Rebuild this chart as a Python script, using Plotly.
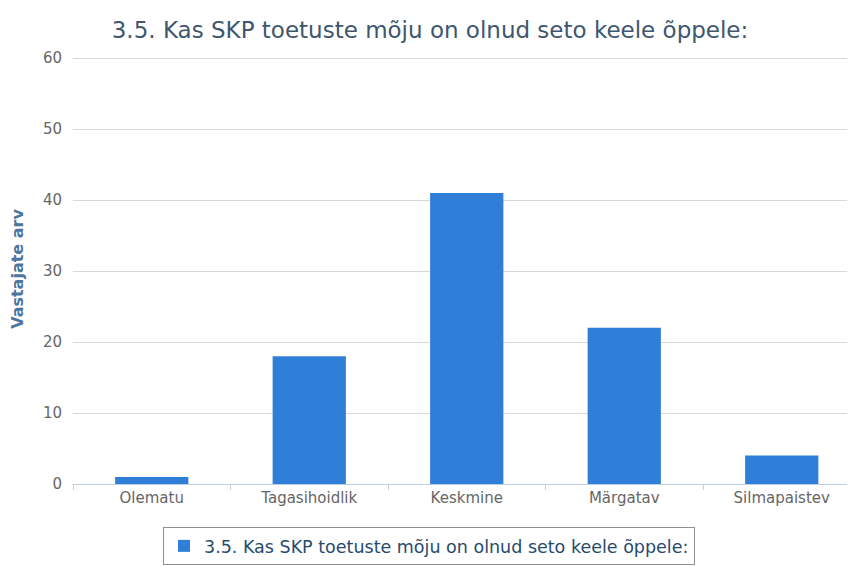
import plotly.graph_objects as go

categories = ["Olematu", "Tagasihoidlik", "Keskmine", "Märgatav", "Silmapaistev"]
values = [1, 18, 41, 22, 4]
series_name = "3.5. Kas SKP toetuste mõju on olnud seto keele õppele:"
title_text = "3.5. Kas SKP toetuste mõju on olnud seto keele õppele:"
y_title = "Vastajate arv"
y_ticks = [0, 10, 20, 30, 40, 50, 60]

# page body has an 8px default margin, so the figure is sized to fill the rest
OFF = 8
W, H = 855 - OFF, 566 - OFF
ml, mr, mt = 73 - OFF, 0, 54 - OFF
plot_bottom = 484 - OFF
mb = H - plot_bottom
plot_w = W - ml - mr
plot_h = H - mt - mb
px_per_unit = (484 - 58) / 60.0
y_top = plot_h / px_per_unit

FONT = "DejaVu Sans, Verdana, sans-serif"

fig = go.Figure()
fig.add_trace(go.Bar(
    x=categories, y=values, name=series_name,
    marker=dict(color="#2f7ed8", line=dict(width=0)),
    width=0.465, showlegend=True,
))

# plot area extends past the visible right edge in the reference
span = plot_w / 157.5
fig.update_layout(
    width=W, height=H,
    margin=dict(l=ml, r=mr, t=mt, b=mb, autoexpand=False),
    paper_bgcolor="white", plot_bgcolor="white",
    font=dict(family=FONT, color="#666666", size=15),
    title=dict(text=title_text, x=(430 - OFF) / W, xanchor="center", xref="container",
               y=1 - (30 - OFF) / H, yanchor="middle", yref="container",
               font=dict(size=23, color="#3E576F", family=FONT)),
    xaxis=dict(
        type="category", range=[-0.5, -0.5 + span],
        showline=True, linecolor="#C0D0E0", linewidth=1,
        ticks="outside", tickson="boundaries", ticklen=5, tickcolor="#C0D0E0",
        tickfont=dict(size=15, color="#666666"),
        showgrid=False, zeroline=False,
    ),
    yaxis=dict(
        range=[0, y_top], tickvals=y_ticks,
        showgrid=True, gridcolor="#D8D8D8", gridwidth=1,
        zeroline=False, showline=False,
        tickfont=dict(size=15, color="#666666"),
        ticklabelstandoff=10,
        title=dict(text="<b>" + y_title + "</b>", standoff=18,
                   font=dict(size=16, color="#4d759e")),
    ),
    legend=dict(
        orientation="h", x=(429 - OFF - ml) / plot_w, xanchor="center",
        y=-(527 - 484) / plot_h, yanchor="top",
        bordercolor="#909090", borderwidth=1, bgcolor="white",
        font=dict(size=17.5, color="#274b6d"),
    ),
    bargap=0.5,
)

fig.write_html("out.html")
